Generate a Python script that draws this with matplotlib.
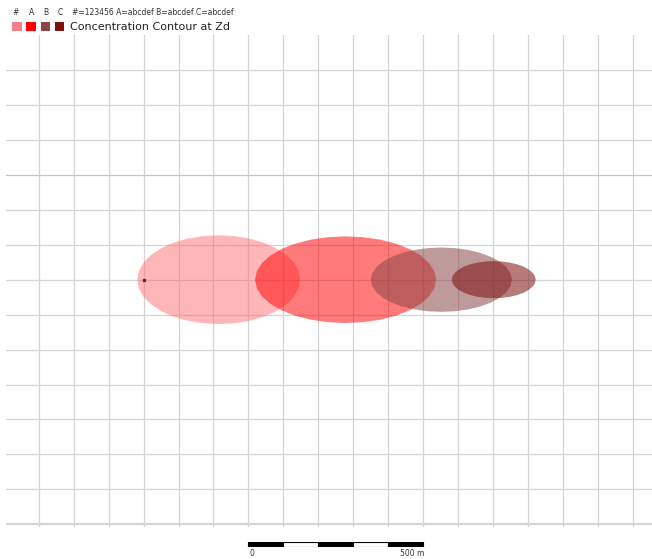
""" Plume concentration contours at Zd on a 100 m grid """
import numpy as np
import matplotlib
matplotlib.use('Agg')
import matplotlib.pyplot as plt
from matplotlib.patches import Polygon, Rectangle

# Contour data (metres, source at origin)
labels = ['#', 'A', 'B', 'C']
legend_colors = ['#f47f84', '#ff0000', '#8b4747', '#7f0f0f']
fill_colors = ['#ff6e73', '#ff0000', '#8b4747', '#7f0f0f']
center_x = [215, 578, 852, 1002]
center_y = [0, 0, 0, 0]
half_len = [233, 259, 202, 120]
half_wid = [127, 124, 92, 53]
header = '#=123456 A=abcdef B=abcdef C=abcdef'
title = 'Concentration Contour at Zd'

# Grid / scale bar
grid_x = np.arange(-300, 1401, 100)
grid_y = np.arange(-700, 601, 100)
scale_ticks = [0, 100, 200, 300, 400, 500]
scale_start = 300

W, H = 652, 559
fig = plt.figure(figsize=(W / 100, H / 100), dpi=100)
ax = fig.add_axes([6 / W, (H - 527) / H, (W - 6) / W, (527 - 35) / H])
ax.set_xlim(-393.6, 1454.8)
ax.set_ylim(-707.6, 700.1)
for s in ax.spines.values():
    s.set_visible(False)
ax.set_xticks([])
ax.set_yticks([])

# Grid lines
for gx in grid_x:
    ax.axvline(gx, color='#d4d4d4', lw=0.9, zorder=1)
for gy in grid_y:
    lw = 1.6 if gy == grid_y[0] else 0.9
    col = '#c4c4c4' if gy == 300 else '#d4d4d4'
    ax.axhline(gy, color=col, lw=lw, zorder=1)

# Contours, drawn as polygons
alphas = [0.5, 0.52, 0.55, 0.55]
n = 32
t = np.linspace(0, 2 * np.pi, n, endpoint=False)
for i in range(len(labels)):
    xs = center_x[i] + half_len[i] * np.cos(t)
    ys = center_y[i] + half_wid[i] * np.sin(t)
    ax.add_patch(Polygon(np.column_stack([xs, ys]), closed=True,
                         facecolor=fill_colors[i], edgecolor='none',
                         alpha=alphas[i], zorder=2))

# Source point
ax.plot([0], [0], 's', color='#8b1a1a', ms=1.5, zorder=3)

# Legend header
fig.text(16 / W, 1 - 12.5 / H, '#', fontsize=5.5, color='#333333', va='center', ha='center')
for i, lab in enumerate(labels[1:]):
    fig.text((32 + 14 * i) / W, 1 - 12.5 / H, lab, fontsize=5.5, color='#333333',
             va='center', ha='center')
fig.text(72 / W, 1 - 12.5 / H, header, fontsize=5.5, color='#333333', va='center')
for i, c in enumerate(legend_colors):
    fig.patches.append(Rectangle(((12 + 14.3 * i) / W, 1 - 31 / H), 9.5 / W, 9.5 / H,
                                 transform=fig.transFigure, facecolor=c,
                                 edgecolor='none'))
fig.text(70 / W, 1 - 26.5 / H, title, fontsize=8, color='#222222', va='center')

# Scale bar
sb = fig.add_axes([6 / W, (H - 547) / H, (W - 6) / W, 5.5 / H], sharex=ax)
sb.set_ylim(0, 1)
sb.axis('off')
for k in range(len(scale_ticks) - 1):
    x0 = scale_start + scale_ticks[k]
    sb.add_patch(Rectangle((x0, 0), scale_ticks[k + 1] - scale_ticks[k], 1,
                           facecolor='black' if k % 2 == 0 else 'white',
                           edgecolor='black', lw=0.8))
fig.text(250 / W, 1 - 554 / H, '0', fontsize=5.5, color='#333333', va='center')
fig.text(424 / W, 1 - 554 / H, '500 m', fontsize=5.5, color='#333333',
         va='center', ha='right')

plt.savefig('out.png', dpi=100)
plt.close(fig)
